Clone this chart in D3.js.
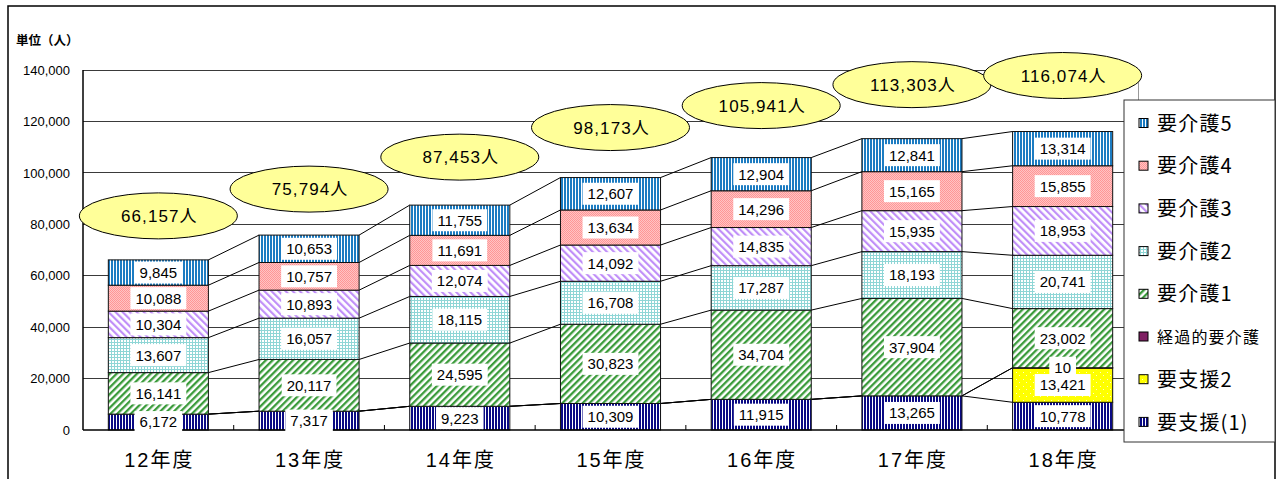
<!DOCTYPE html>
<html><head><meta charset="utf-8">
<script src="https://cdn.jsdelivr.net/npm/d3@7"></script>
<style>body{margin:0;background:#fff} svg{display:block}</style>
</head><body><svg id="c" width="1281" height="479"></svg>
<script>
// ---- data ----
const categories = ["12年度","13年度","14年度","15年度","16年度","17年度","18年度"];
const seriesNames = ["要支援(1)","要支援2","経過的要介護","要介護1","要介護2","要介護3","要介護4","要介護5"];
const shien1 = [6172,7317,9223,10309,11915,13265,10778];
const shien2 = [0,0,0,0,0,0,13421];
const keika  = [0,0,0,0,0,0,10];
const kaigo1 = [16141,20117,24595,30823,34704,37904,23002];
const kaigo2 = [13607,16057,18115,16708,17287,18193,20741];
const kaigo3 = [10304,10893,12074,14092,14835,15935,18953];
const kaigo4 = [10088,10757,11691,13634,14296,15165,15855];
const kaigo5 = [9845,10653,11755,12607,12904,12841,13314];
const totals = [66157,75794,87453,98173,105941,113303,116074];
const yTicks = [0,20000,40000,60000,80000,100000,120000,140000];
const unitLabel = "単位（人）";

const seriesValues = [shien1, shien2, keika, kaigo1, kaigo2, kaigo3, kaigo4, kaigo5];
const seriesFill = ["url(#pShien1)","url(#pShien2)","#7f1f62","url(#pK1)","url(#pK2)","url(#pK3)","url(#pK4)","url(#pK5)"];

const svg = d3.select("#c");
const FONT = "'Liberation Sans', Arial, 'Noto Sans CJK JP', sans-serif";

// ---- patterns ----
const defs = svg.append("defs");
function pat(id, w, h, transform) {
  const p = defs.append("pattern").attr("id", id).attr("patternUnits","userSpaceOnUse")
    .attr("width", w).attr("height", h);
  if (transform) p.attr("patternTransform", transform);
  return p;
}
let p;
p = pat("pK5", 3, 10); p.append("rect").attr("width",3).attr("height",10).attr("fill","#fff");
p.append("rect").attr("width",2).attr("height",10).attr("fill","#1c7cc2");
p = pat("pShien1", 3, 10); p.append("rect").attr("width",3).attr("height",10).attr("fill","#fff");
p.append("rect").attr("width",2).attr("height",10).attr("fill","#0a0a84");
p = pat("pK4", 2, 2); p.append("rect").attr("width",2).attr("height",2).attr("fill","#ffc4c4");
p.append("rect").attr("width",1).attr("height",1).attr("fill","#ff9696");
p.append("rect").attr("x",1).attr("y",1).attr("width",1).attr("height",1).attr("fill","#ff9696");
p = pat("pK3", 5, 10, "rotate(-45)"); p.append("rect").attr("width",5).attr("height",10).attr("fill","#fff");
p.append("rect").attr("width",2.2).attr("height",10).attr("fill","#c08ff8");
p = pat("pK2", 3, 3); p.append("rect").attr("width",3).attr("height",3).attr("fill","#fff");
p.append("rect").attr("width",3).attr("height",1).attr("fill","#8fd6d6");
p.append("rect").attr("width",1).attr("height",3).attr("fill","#8fd6d6");
p = pat("pK1", 4.8, 10, "rotate(45)"); p.append("rect").attr("width",4.8).attr("height",10).attr("fill","#fff");
p.append("rect").attr("width",2.3).attr("height",10).attr("fill","#3b9b3b");
p = pat("pShien2", 7, 7); p.append("rect").attr("width",7).attr("height",7).attr("fill","#ffff00");
p.append("rect").attr("x",1).attr("y",1).attr("width",1).attr("height",1).attr("fill","#fffccc");
p.append("rect").attr("x",4).attr("y",4).attr("width",1).attr("height",1).attr("fill","#fffccc");

// ---- outer frame ----
svg.append("rect").attr("x",8).attr("y",6).attr("width",1267).attr("height",520)
  .attr("fill","#fff").attr("stroke","#000").attr("stroke-width",1.5);

// ---- scales ----
const plot = {left:83, right:1138, top:70, bottom:430};
const x = d3.scaleBand().domain(categories).range([plot.left, plot.right])
  .paddingInner(0.336).paddingOuter(0.168);
const y = d3.scaleLinear().domain([0,140000]).range([plot.bottom, plot.top]);
const bw = x.bandwidth();

// gridlines
svg.append("g").selectAll("line").data(yTicks.filter(t=>t>0)).join("line")
  .attr("x1",plot.left).attr("x2",plot.right).attr("y1",d=>y(d)).attr("y2",d=>y(d))
  .attr("stroke","#3a3a3a").attr("stroke-width",1).attr("shape-rendering","crispEdges");
// plot right border
svg.append("line").attr("x1",plot.right).attr("x2",plot.right).attr("y1",plot.top).attr("y2",plot.bottom)
  .attr("stroke","#999").attr("shape-rendering","crispEdges");

// y tick labels
svg.append("g").selectAll("text").data(yTicks).join("text")
  .attr("x",70).attr("y",d=>y(d)).attr("dy","0.36em").attr("text-anchor","end")
  .attr("font-family",FONT).attr("font-size",13).attr("fill","#000")
  .text(d=>d3.format(",")(d));

svg.append("text").attr("x",16).attr("y",45).attr("font-family","'Noto Sans CJK JP', sans-serif")
  .attr("font-size",12.5).attr("font-weight","bold").attr("fill","#000").text(unitLabel);

// ---- stack ----
const rows = categories.map((c,i)=>{ const o={cat:c}; seriesNames.forEach((s,k)=>o[s]=seriesValues[k][i]); return o; });
const stacked = d3.stack().keys(seriesNames)(rows);

// series lines
const sl = svg.append("g");
stacked.forEach(layer=>{
  for (let i=0;i<categories.length-1;i++){
    sl.append("line")
      .attr("x1", x(categories[i])+bw).attr("y1", y(layer[i][1]))
      .attr("x2", x(categories[i+1])).attr("y2", y(layer[i+1][1]))
      .attr("stroke","#000").attr("stroke-width",1);
  }
});

// bars
const bars = svg.append("g");
stacked.forEach((layer,k)=>{
  bars.append("g").selectAll("rect").data(layer.filter(d=>d[1]-d[0]>0)).join("rect")
    .attr("x",d=>x(d.data.cat)).attr("width",bw)
    .attr("y",d=>y(d[1])).attr("height",d=>Math.max(0.5, y(d[0])-y(d[1])))
    .attr("fill",seriesFill[k]).attr("stroke","#111").attr("stroke-width",1);
});

// axes lines
svg.append("line").attr("x1",plot.left).attr("x2",plot.left).attr("y1",plot.top).attr("y2",plot.bottom)
  .attr("stroke","#000").attr("stroke-width",1.5);
svg.append("line").attr("x1",plot.left).attr("x2",plot.right).attr("y1",plot.bottom).attr("y2",plot.bottom)
  .attr("stroke","#000").attr("stroke-width",1.5);
const outer = (plot.right-plot.left - x.step()*categories.length)/2;
svg.append("g").selectAll("line").data(d3.range(1,categories.length)).join("line")
  .attr("x1",i=>plot.left + outer + x.step()*i)
  .attr("x2",i=>plot.left + outer + x.step()*i)
  .attr("y1",plot.bottom-5).attr("y2",plot.bottom).attr("stroke","#000");

// category labels
svg.append("g").selectAll("text").data(categories).join("text")
  .attr("x",d=>x(d)+bw/2+1).attr("y",467).attr("text-anchor","middle")
  .attr("font-family",FONT).attr("font-size",20).attr("letter-spacing","2px").attr("fill","#000")
  .text(d=>d);

// data labels
const lbl = svg.append("g");
stacked.forEach((layer,k)=>{
  layer.forEach(d=>{
    const v = d[1]-d[0];
    if (v<=0) return;
    const cy = y((d[0]+d[1])/2);
    const cx = x(d.data.cat)+bw/2;
    const g = lbl.append("g");
    const r = g.append("rect").attr("fill","#fff");
    const t = g.append("text").attr("x",cx).attr("y",cy).attr("dy","0.36em").attr("text-anchor","middle")
      .attr("font-family",FONT).attr("font-size",15).attr("fill","#000").text(d3.format(",")(v));
    const w = t.node().getComputedTextLength();
    r.attr("x",cx-w/2-5).attr("y",cy-11).attr("width",w+10).attr("height",22);
  });
});

// total callouts
const co = svg.append("g");
categories.forEach((c,i)=>{
  const cx = x(c)+bw/2;
  const cy = y(totals[i]) - 44 - 2*i;
  co.append("ellipse").attr("cx",cx).attr("cy",cy).attr("rx",79).attr("ry",23)
    .attr("fill","#ffff99").attr("stroke","#000").attr("stroke-width",1);
  co.append("text").attr("x",cx+1).attr("y",cy).attr("dy","0.36em").attr("text-anchor","middle")
    .attr("font-family",FONT).attr("font-size",17).attr("letter-spacing","1.1px").attr("fill","#000")
    .text(d3.format(",")(totals[i])+"人");
});

// legend
const lg = svg.append("g");
lg.append("rect").attr("x",1124).attr("y",100).attr("width",151).attr("height",342)
  .attr("fill","#fff").attr("stroke","#333").attr("stroke-width",1);
const legendOrder = seriesNames.map((s,k)=>k).reverse();
legendOrder.forEach((k,j)=>{
  const cy = 123 + j*42.7;
  lg.append("rect").attr("x",1139).attr("y",cy-4.5).attr("width",9).attr("height",9)
    .attr("fill",seriesFill[k]).attr("stroke","#000").attr("stroke-width",1);
  const small = !/[0-9]/.test(seriesNames[k]);
  lg.append("text").attr("x",1157).attr("y",cy).attr("dy","0.38em")
    .attr("font-family","'Noto Sans CJK JP', 'Liberation Sans', sans-serif")
    .attr("font-size", small?16:20).attr("letter-spacing","1.2px")
    .attr("fill","#000").text(seriesNames[k]);
});
</script></body></html>
